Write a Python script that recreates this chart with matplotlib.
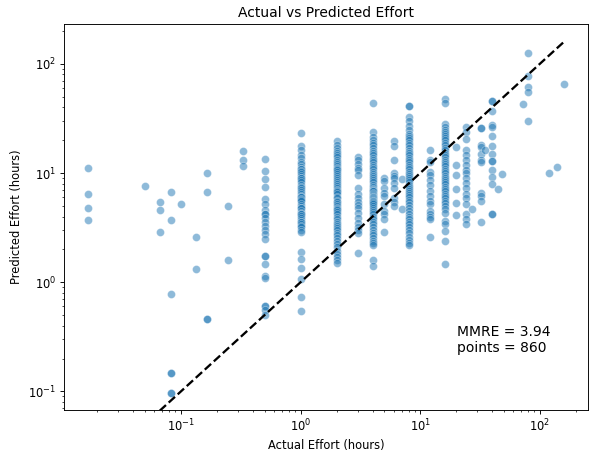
import numpy as np
import matplotlib
matplotlib.use('Agg')
from matplotlib import pyplot as plt

# actual effort (hours) of each column and the predicted effort
pred_1min = [11.1, 6.5, 4.75, 3.74]
pred_3min = [7.55]
pred_4min = [5.4, 4.56, 2.87]
pred_5min = [6.65, 3.72, 0.776, 0.149, 0.149, 0.096, 0.096]
pred_6min = [5.2]
pred_8min = [2.58, 1.32]
pred_10min = [10.1, 6.65, 0.46, 0.46]
pred_15min = [4.95, 1.61]
pred_20min = [15.8, 13.1, 11.7]
pred_30min = [13.4, 10.5, 8.9, 7.5, 5.8, 5.2, 4.6, 4.2, 4.2, 3.9, 3.6, 3.3, 3.0,
              2.77, 2.5, 1.75, 1.75, 1.46, 1.15, 1.1, 0.6, 0.6, 0.56, 0.50]
pred_1h = [23.2, 17.7, 16.2, 14.5, 13.8, 12.5, 12.0, 11.3, 11.0, 10.8, 10.5, 10.2,
           9.9, 9.5, 9.1, 9.0, 8.7, 8.3, 7.8, 7.5, 7.3, 7.0, 6.7, 6.5, 6.2, 6.0, 6.0,
           5.8, 5.7, 5.5, 5.2, 5.0, 4.8, 4.75, 4.5, 4.35, 4.2, 4.2, 4.06, 3.9, 3.71,
           3.6, 3.55, 3.41, 3.3, 3.18, 3.01, 2.9, 1.90, 1.65, 1.36, 1.07, 0.73, 0.54]
pred_2h = [19.5, 18, 17, 16, 15.3, 14.6, 14, 13.3, 12.7, 12.2, 11.6, 11.1, 11.0,
           10.6, 10.2, 9.8, 9.4, 9.0, 8.6, 8.2, 7.9, 7.6, 7.3, 7.0, 6.8, 6.7, 6.4,
           6.1, 5.9, 5.6, 5.4, 5.2, 5.0, 4.8, 4.7, 4.6, 4.4, 4.2, 4.0, 3.8, 3.6,
           3.45, 3.3, 3.15, 3.0, 2.85, 2.7, 2.55, 2.4, 2.25, 2.1, 1.95, 1.8, 1.7,
           1.6, 1.5]
pred_3h = [14.1, 13.2, 12.0, 11.1, 10.7, 9.6, 7.3, 6.4, 5.9, 5.4, 5.1, 4.8, 4.35,
           3.9, 3.5, 3.2, 3.0, 2.8, 1.87]
pred_4h = [43.4, 23.7, 21.4, 20, 19, 18, 17, 16, 15.2, 14.5, 13.8, 13.1, 12.5,
           11.9, 11.3, 10.8, 10.3, 9.8, 9.4, 9.0, 8.6, 8.2, 7.8, 7.5, 7.2, 7.0,
           6.9, 6.8, 6.6, 6.5, 6.3, 6.2, 6.0, 6.0, 5.9, 5.8, 5.7, 5.6, 5.5, 5.4,
           5.3, 5.2, 5.0, 4.8, 4.6, 4.4, 4.2, 4.0, 3.8, 3.6, 3.4, 3.2, 3.0, 2.85,
           2.7, 2.55, 2.4, 2.3, 2.18, 1.6, 1.42]
pred_5h = [9.0, 8.4, 7.3, 6.6, 6.15, 5.2, 4.5, 4.2, 3.8, 2.87]
pred_6h = [19.5, 17.7, 13.2, 10.0, 9.5, 9.0, 8.1, 7.3, 5.9, 5.4, 5.0]
pred_7h = [8.8, 4.65]
pred_8h = [41.2, 41.2, 32.4, 30, 27, 25, 23, 22, 21, 20, 19, 18, 17, 16, 15.2,
           14.5, 13.8, 13.1, 12.5, 11.9, 11.3, 10.8, 10.3, 9.8, 9.4, 9.0, 8.6,
           8.2, 7.8, 7.5, 7.2, 6.9, 6.6, 6.3, 6.0, 5.7, 5.4, 5.1, 4.8, 4.5, 4.2,
           4.0, 3.8, 3.6, 3.4, 3.2, 3.0, 2.8, 2.6, 2.45, 2.3, 2.2]
pred_12h = [16.2, 13.2, 12.7, 10.3, 9.6, 8.7, 7.8, 6.8, 6.15, 5.5, 5.2, 4.5, 4.2,
            4.0, 3.8, 2.6]
pred_16h = [48, 43.4, 28.2, 26.3, 25, 24, 23, 22, 21, 20, 19, 18, 17, 16.2, 15.4,
            14.7, 14, 13.3, 12.7, 12.1, 11.5, 11, 10.5, 10, 9.5, 9.1, 8.7, 8.3,
            7.9, 7.5, 7.1, 6.8, 6.5, 6.2, 5.9, 5.6, 5.3, 5.0, 4.7, 4.35, 3.66,
            3.4, 2.97, 2.41, 1.46]
pred_20h = [17.4, 11.9, 9.6, 7.1, 5.3, 4.14]
pred_24h = [26.3, 23.7, 20.7, 16.2, 14.6, 13.2, 11.9, 10.7, 10, 9, 8.1, 7.3, 6.4,
            5.9, 5.2, 4.2, 3.8, 3.4]
pred_27h = [4.7]
pred_32h = [25.8, 25.8, 18.2, 17.4, 14.8, 13.2, 12.5, 6.6, 6.15, 5.6, 3.6]
pred_35h = [16.4]
pred_40h = [45.7, 45.7, 37.1, 27.6, 26.3, 21.8, 17.7, 15.1, 12.9, 12.9, 10.7, 9.3,
            8.0, 4.2, 4.2]
pred_45h = [7.1]
pred_48h = [9.8]
pred_72h = [42.6]
pred_80h = [127, 78, 61, 55, 30.2]
pred_120h = [10]
pred_140h = [11.3]
pred_160h = [65.6]

actual_hours = [1/60, 0.05, 1/15, 1/12, 0.1, 2/15, 1/6, 0.25, 1/3, 0.5, 1, 2, 3, 4,
                5, 6, 7, 8, 12, 16, 20, 24, 27, 32, 35, 40, 45, 48, 72, 80, 120,
                140, 160]
predicted_cols = [pred_1min, pred_3min, pred_4min, pred_5min, pred_6min, pred_8min,
                  pred_10min, pred_15min, pred_20min, pred_30min, pred_1h, pred_2h,
                  pred_3h, pred_4h, pred_5h, pred_6h, pred_7h, pred_8h, pred_12h,
                  pred_16h, pred_20h, pred_24h, pred_27h, pred_32h, pred_35h,
                  pred_40h, pred_45h, pred_48h, pred_72h, pred_80h, pred_120h,
                  pred_140h, pred_160h]

mmre = 3.94
n_points = 860

actual = np.concatenate([[a] * len(p) for a, p in zip(actual_hours, predicted_cols)])
predicted = np.concatenate(predicted_cols)

dpi = 83
fig = plt.figure(figsize=(590 / dpi, 451 / dpi), dpi=dpi)
ax = fig.add_subplot(111)
fig.subplots_adjust(left=64/590, right=588/590, bottom=1 - 410/451, top=1 - 24/451)

ax.scatter(actual, predicted, s=48, color='#1f77b4', alpha=0.5,
           edgecolor='w', linewidth=0.5)
lo, hi = actual.min(), actual.max()
ax.plot([lo, hi], [lo, hi], 'k--', lw=2)

ax.set_xscale('log')
ax.set_yscale('log')
ax.set_xlim(0.01054, 253)
ax.set_ylim(0.0676, 232)

ax.text(0.75, 0.182, f'MMRE = {mmre:.2f}\npoints = {n_points}',
        transform=ax.transAxes, ha='left', va='center', fontsize=12)
ax.set_title('Actual vs Predicted Effort')
ax.set_xlabel('Actual Effort (hours)')
ax.set_ylabel('Predicted Effort (hours)')

fig.savefig('out.png', dpi=dpi)
